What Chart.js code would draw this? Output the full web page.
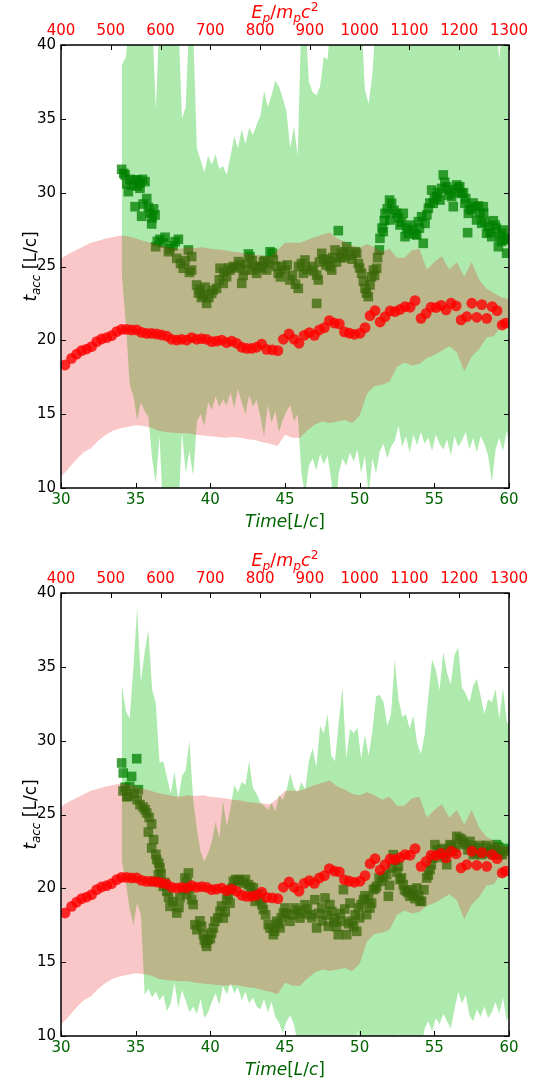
<!DOCTYPE html>
<html>
<head>
<meta charset="utf-8">
<script src="https://cdn.jsdelivr.net/npm/chart.js@4.4.1/dist/chart.umd.min.js"></script>
<style>
  html, body { margin: 0; padding: 0; background: #fff; }
  canvas { display: block; }
</style>
</head>
<body>
<canvas id="topChart" width="541" height="548"></canvas>
<canvas id="bottomChart" width="541" height="535"></canvas>
<script>
// tick labels
const timeTicks = [30, 35, 40, 45, 50, 55, 60];
const energyTicks = [400, 500, 600, 700, 800, 900, 1000, 1100, 1200, 1300];
const taccTicks = [10, 15, 20, 25, 30, 35, 40];

// red band (same in both panels)
const redBandX = [30,30.5,31,31.5,32,32.5,33,33.5,34,34.5,35,35.5,36,36.5,37,37.5,38,38.5,39,39.5,
  40,40.5,41,41.5,42,42.5,43,43.5,44,44.5,45,45.5,46,46.5,47,47.5,48,48.5,49,49.5,
  50,50.5,51,51.5,52,52.5,53,53.5,54,54.5,55,55.5,56,56.5,57,57.5,58,58.5,59,59.5,60];
const redBandHi = [25.55,25.85,26.1,26.35,26.6,26.75,26.9,27.0,27.1,27.05,
  26.9,26.75,26.6,26.45,26.35,26.25,26.2,26.3,26.25,26.3,
  26.2,26.15,26.1,26.0,25.95,25.85,25.8,25.75,25.7,26.1,
  26.6,26.6,26.6,26.8,27.0,27.15,27.3,26.9,26.7,26.4,
  26.3,26.5,26.3,26.0,26.2,25.6,25.6,26.1,26.2,24.8,
  25.3,25.7,24.8,25.3,24.3,25.3,24.1,23.5,23.2,22.9,
  22.8];
const redBandLo = [10.77,11.3,11.9,12.4,12.7,13.2,13.6,13.9,14.05,14.15,
  14.25,14.2,14.1,13.9,13.8,13.75,13.7,13.7,13.6,13.55,
  13.5,13.45,13.4,13.45,13.4,13.3,13.25,13.1,13.0,12.85,
  13.6,13.4,13.4,13.9,14.3,14.5,14.4,14.5,14.6,14.4,
  14.9,16.4,16.9,17.0,17.2,18.2,18.5,18.3,18.4,18.8,
  19.0,19.3,19.6,19.2,17.9,18.9,19.4,20.2,20.3,21.0,
  21.15];

// red circles (same in both panels)
const redPts = [[30.27,18.33],[30.71,18.78],[31.05,19.07],[31.38,19.30],[31.72,19.41],[32.05,19.57],
  [32.39,19.91],[32.72,20.09],[33.06,20.18],[33.39,20.32],[33.73,20.59],[34.06,20.74],[34.40,20.74],
  [34.73,20.70],[35.07,20.70],[35.40,20.54],[35.74,20.47],[36.07,20.47],[36.41,20.43],[36.74,20.36],
  [37.08,20.29],[37.41,20.07],[37.75,20.02],[38.08,20.07],[38.42,20.02],[38.75,20.18],[39.08,20.07],
  [39.42,20.11],[39.75,20.07],[40.09,19.91],[40.42,19.95],[40.76,20.02],[41.09,19.84],[41.43,19.95],
  [41.76,19.80],[42.10,19.53],[42.43,19.46],[42.77,19.46],[43.10,19.53],[43.44,19.75],[43.77,19.39],
  [44.15,19.35],[44.52,19.30],[44.89,20.07],[45.27,20.43],[45.61,20.07],[45.94,19.8],[46.28,20.34],
  [46.63,20.52],[46.97,20.34],[47.3,20.70],[47.64,20.86],[47.97,21.34],[48.31,21.16],[48.64,21.11],
  [48.98,20.57],[49.31,20.48],[49.65,20.41],[50.03,20.48],[50.36,20.86],[50.7,21.67],[51.03,22.01],
  [51.37,21.24],[51.7,21.6],[52.04,21.99],[52.37,21.94],[52.71,22.1],[53.04,22.28],[53.38,22.24],
  [53.71,22.69],[54.11,21.49],[54.45,21.83],[54.78,22.24],[55.12,22.22],[55.45,22.37],[55.79,22.06],
  [56.12,22.51],[56.46,22.33],[56.79,21.38],[57.17,21.6],[57.51,22.51],[57.84,21.56],[58.18,22.42],
  [58.51,21.49],[58.87,22.28],[59.2,22.01],[59.54,21.04],[59.76,21.16]];

// green band time grid (both panels)
const greenX = [34.06,34.35,34.6,34.85, 35.1,35.35,35.6,35.85, 36.1,36.35,36.6,36.85, 37.1,37.35,37.6,37.85,
  38.1,38.35,38.6,38.85, 39.1,39.35,39.6,39.85, 40.1,40.35,40.6,40.85, 41.1,41.35,41.6,41.85,
  42.1,42.35,42.6,42.85, 43.1,43.35,43.6,43.85, 44.1,44.35,44.6,44.85, 45.1,45.35,45.6,45.85,
  46.1,46.35,46.6,46.85, 47.1,47.35,47.6,47.85, 48.1,48.35,48.6,48.85, 49.1,49.35,49.6,49.85,
  50.1,50.35,50.6,50.85, 51.1,51.35,51.6,51.85, 52.1,52.35,52.6,52.85, 53.1,53.35,53.6,53.85,
  54.1,54.35,54.6,54.85, 55.1,55.35,55.6,55.85, 56.1,56.35,56.6,56.85, 57.1,57.35,57.6,57.85,
  58.1,58.35,58.6,58.85, 59.1,59.35,59.6,59.85, 60];

// top panel green band
const greenHiTop = [38.6,39.2,42,42, 42,42,42,42, 42,35.6,42,42, 42,42,42,42,
  35.0,35.8,42,41, 33.0,32.2,31.4,32.5, 31.9,32.6,31.6,31.8, 31.2,32.5,33.8,33.0,
  34.3,33.3,34.4,33.9, 34.6,35.2,36.9,35.8, 36.6,37.6,37.2,36.4, 35.5,33.0,34.5,32.5,
  42,42,37.5,36.8, 36.6,37.2,39.2,39.0, 42,42,42,42, 42,42,42,42,
  42,37.0,36.0,38.0, 42,42,42,42, 42,42,42,42, 42,42,42,42,
  42,42,42,42, 42,42,42,42, 42,42,42,42, 42,42,42,42,
  42,42,42,42, 42,39.0,42,42, 42];
const greenLoTop = [24.6,21.0,17.0,16.2, 14.6,15.8,15.2,14.8, 12.0,10.3,13.5,8, 8,8,8,8,
  13.8,11.0,12.5,10.8, 14.5,15.0,14.2,15.8, 15.3,16.2,15.5,16.0, 15.6,16.5,15.4,16.7,
  15.8,15.0,16.3,15.5, 16.0,14.8,13.5,15.6, 14.4,15.2,13.8,14.6, 15.2,15.6,14.5,15.0,
  11.0,9.5,11.5,12.0, 11.2,12.3,11.6,12.2, 10.5,8,11.0,12.0, 11.5,12.4,11.8,12.6,
  11.0,12.2,9.5,12.0, 11.0,12.5,13.0,12.0, 12.8,13.2,14.2,12.8, 13.5,12.4,13.6,12.9,
  13.8,13.0,13.4,12.5, 13.6,13.0,12.6,13.3, 12.2,13.5,12.8,13.2, 13.8,12.6,13.4,12.4,
  13.5,13.0,12.2,10.4, 12.6,13.4,12.5,13.9, 13.0];

// bottom panel green band
const greenHiBot = [33.8,32.0,31.5,35.0, 39.0,34.0,36.0,37.5, 33.5,32.5,28.5,28.6, 27.5,26.4,27.9,26.0,
  27.6,28.0,30.0,26.0, 24.0,22.5,21.8,22.4, 23.2,24.5,23.4,25.9, 24.2,25.4,27.0,26.5,
  27.2,27.0,28.6,26.8, 26.4,25.8,25.6,25.3, 25.8,25.2,26.3,26.0, 26.6,27.8,26.8,26.5,
  27.2,26.7,28.6,29.5, 28.2,31.0,30.5,31.8, 29.0,28.6,31.3,33.6, 28.8,30.8,30.5,30.9,
  28.8,30.4,29.0,30.6, 33.0,33.1,32.6,31.0, 31.8,35.5,32.8,31.6, 31.8,30.8,31.7,29.8,
  29.1,30.4,33.0,35.5, 34.8,33.4,36.0,34.6, 33.8,35.8,36.3,33.6, 33.2,32.6,33.7,34.2,
  33.0,31.8,32.8,32.6, 33.5,31.5,33.6,31.3, 31.0];
const greenLoBot = [21.9,20.3,18.6,17.5, 19.0,18.2,12.8,13.2, 12.6,13.0,12.4,12.8, 11.7,12.2,13.6,11.9,
  13.1,12.4,11.6,12.0, 11.5,12.5,11.2,11.6, 12.3,12.9,12.1,13.4, 12.8,13.6,12.9,13.3,
  12.4,13.0,12.2,12.6, 12.0,11.8,12.5,11.6, 12.3,11.3,10.9,10.2, 11.0,11.4,10.8,9.5,
  8,8,8,8, 8,8,8,8, 8,8,8,8, 8,8,8,10.4,
  8,8,8,8, 8,8,8,8, 8,8,10.2,9.0, 8,9.2,8,10.0,
  9.0,10.5,11.0,10.3, 11.2,10.8,11.5,11.0, 10.5,11.8,13.0,12.2, 12.8,11.4,11.0,11.8,
  11.3,12.0,11.2,11.6, 12.3,11.5,12.6,11.0, 11.5];

// green squares, top panel
const squaresTop = [[34.06,31.58],[34.29,31.2],[34.62,30.9],[34.96,30.86],[35.29,30.63],[35.63,30.75],
  [34.51,30.07],[35.29,30.3],[34.96,29.05],[35.5,29.23],[35.74,29.6],[35.4,28.4],[35.96,28.6],[36.3,28.49],
  [36.07,27.88],[36.63,26.84],[36.97,26.98],[37.64,26.68],[37.86,26.84],[36.34,26.34],[37.19,26.0],
  [37.75,25.55],[38.53,26.12],[38.75,25.67],[38.19,24.88],[38.75,24.76],[39.08,23.75],[39.3,23.45],
  [39.53,23.07],[39.75,22.5],[39.64,23.6],[40.09,23.18],[40.42,23.52],[40.65,24.88],[40.87,23.86],
  [41.09,24.31],[41.32,24.76],[41.54,25.0],[41.88,25.33],[42.1,23.86],[42.32,24.76],[42.66,25.67],
  [42.88,24.76],[43.1,24.54],[43.33,25.0],[43.55,25.33],[43.77,24.76],[44.0,26.0],[44.22,25.44],
  [44.55,24.54],[42.55,25.85],[44.78,25.0],
  [34.2,31.3],[34.4,30.6],[34.75,30.5],[35.1,30.45],[35.15,30.85],[35.45,30.9],[35.85,29.0],[36.1,28.3],
  [36.2,28.9],[36.45,26.7],[36.85,26.6],[37.3,26.2],[37.5,26.4],[38.0,25.2],[38.3,25.4],[38.6,24.6],
  [39.2,23.2],[39.4,22.9],[39.9,22.9],[40.2,23.4],[40.6,24.1],[40.9,24.6],[41.2,24.9],[41.7,24.9],
  [42.0,25.1],[42.2,24.4],[42.45,25.2],[42.8,25.4],[43.0,25.0],[43.45,24.9],[43.65,25.4],[43.9,25.2],
  [44.15,25.9],[44.4,25.0],[44.7,24.3],
  [45.0,24.76],[45.33,24.09],[45.89,23.52],[46.34,25.44],[46.23,24.54],[46.79,25.0],[47.12,24.42],
  [47.23,24.09],[47.12,22.5],[47.46,25.89],[47.9,25.44],[48.13,24.76],[48.35,26.12],[48.57,27.43],
  [48.79,25.89],[49.13,26.34],[49.35,25.78],[49.69,26.0],[49.91,25.2],[50.13,24.54],[50.36,23.52],
  [50.58,22.96],[50.69,23.75],[50.92,24.76],[51.14,24.88],[51.32,26.12],[51.36,26.91],[51.58,27.36],
  [51.7,28.6],[52.03,28.15],[52.14,29.28],[52.48,28.6],[52.7,27.81],[52.92,28.6],[53.04,27.02],
  [53.26,27.25],[53.59,27.47],[53.82,27.13],[53.93,28.04],[54.15,28.37],[54.38,27.92],[54.26,26.57],
  [54.6,28.94],[54.82,30.18],[54.93,29.28],[55.16,29.73],[55.38,29.5],[55.49,30.29],[55.6,31.2],
  [55.83,30.41],[55.94,29.84],[56.16,29.73],[56.27,29.05],[56.5,30.52],[56.61,30.29],[56.83,29.95],
  [57.05,29.28],[57.28,28.6],[57.23,27.29],[57.5,28.83],[57.72,29.05],[57.83,28.15],[58.06,28.6],
  [58.17,27.92],[58.28,29.05],[58.5,27.25],[58.62,27.7],[58.84,27.02],[59.06,27.81],[59.29,26.34],
  [59.51,27.25],[59.73,26.8],[59.84,25.9],[59.62,27.47],
  [45.15,25.1],[45.5,24.4],[45.7,23.8],[45.9,25.0],[46.1,25.2],[46.45,24.8],[46.9,24.7],[47.3,25.3],
  [47.6,25.5],[47.75,25.1],[48.0,25.0],[48.2,25.6],[48.45,25.3],[48.7,25.6],[48.95,25.6],[49.0,26.0],
  [49.5,25.5],[49.8,25.9],[50.0,24.9],[50.25,24.0],[50.45,23.2],[50.8,24.3],[51.0,24.4],[51.2,25.6],
  [51.5,27.6],[51.65,28.1],[51.85,28.9],[52.0,29.5],[52.3,28.8],[52.6,28.3],[52.8,28.0],[53.15,27.6],
  [53.4,27.8],[53.7,27.2],[54.0,27.6],[54.5,28.5],[54.7,29.3],[55.0,29.6],[55.25,30.0],[55.7,30.7],
  [56.0,30.2],[56.4,30.0],[56.7,30.4],[56.95,30.0],[57.1,29.6],[57.35,28.9],[57.6,29.3],[57.95,29.1],
  [58.3,28.6],[58.4,28.0],[58.75,27.3],[58.95,28.1],[59.15,27.6],[59.4,27.0],[59.5,26.7],[59.9,26.9]];

// green squares, bottom panel
const squaresBot = [[34.06,28.49],[34.17,27.81],[35.07,28.78],[34.73,27.58],[34.29,26.84],[34.51,26.23],
  [35.18,26.68],[35.29,25.67],[35.63,25.33],[35.74,25.1],[36.07,24.36],[35.85,23.81],[36.07,22.73],
  [36.41,21.94],[36.63,21.38],[36.52,20.93],[36.27,20.47],[36.85,20.14],[37.08,19.8],[37.3,18.78],
  [37.75,18.33],[37.97,19.35],[38.53,21.04],[38.3,20.7],[38.42,19.57],[38.75,19.23],[38.97,17.54],
  [39.42,17.43],[39.53,16.86],[39.75,16.07],[39.86,16.52],[40.09,16.97],[40.31,17.77],[40.65,18.44],
  [40.87,17.99],[41.09,19.23],[41.32,19.0],[41.54,20.47],[41.88,20.59],[42.21,20.36],[42.55,20.25],
  [42.88,20.02],[43.0,19.12],[43.33,19.23],[43.55,18.56],[43.88,17.54],[44.22,16.86],[44.44,17.77],
  [44.67,17.32],[44.89,18.33],
  [34.15,26.6],[34.4,26.2],[34.6,26.9],[34.9,26.4],[35.1,26.0],[35.5,25.5],[35.9,24.8],[36.2,23.3],
  [36.35,22.3],[36.55,21.7],[36.7,21.0],[36.95,20.4],[37.2,19.4],[37.5,19.1],[37.9,18.7],[38.2,19.9],
  [38.45,20.4],[38.6,19.9],[38.85,18.9],[39.1,17.2],[39.3,17.8],[39.6,16.5],[39.7,16.3],[40.0,16.6],
  [40.2,17.3],[40.5,18.0],[40.75,18.8],[41.0,18.4],[41.2,19.6],[41.45,20.0],[41.7,20.6],[42.0,20.5],
  [42.35,20.6],[42.7,20.1],[42.95,19.6],[43.2,19.6],[43.45,18.9],[43.7,18.2],[44.0,17.3],[44.3,17.1],
  [44.55,17.6],[44.75,18.0],
  [45.0,18.67],[45.33,17.77],[45.67,18.67],[46.0,17.99],[46.34,18.89],[46.67,18.22],[47.0,19.23],
  [47.12,17.32],[47.46,18.67],[47.68,19.35],[47.9,17.43],[48.13,18.44],[48.35,17.99],[48.57,16.86],
  [48.79,17.77],[48.91,19.91],[49.13,16.86],[49.35,19.0],[49.46,17.77],[49.8,17.09],[49.91,18.67],
  [50.25,19.23],[50.47,18.22],[50.69,18.67],[50.92,19.91],[51.14,20.14],[51.47,20.47],[51.81,20.93],
  [51.92,19.46],[52.14,21.38],[52.25,22.28],[52.59,21.49],[52.7,20.59],[52.92,20.25],[53.15,19.8],
  [53.37,19.46],[53.59,19.57],[53.82,20.02],[54.04,19.12],[54.15,19.12],[54.49,20.7],[54.71,21.27],
  [54.93,22.05],[55.04,22.96],[55.38,22.39],[55.71,22.28],[55.83,21.6],[56.05,22.96],[56.27,22.51],
  [56.5,23.52],[56.83,23.3],[57.05,22.96],[57.39,23.18],[57.61,22.28],[57.95,22.73],[58.17,22.28],
  [58.39,22.51],[58.73,22.73],[58.95,22.28],[59.17,22.96],[59.4,22.28],[59.73,22.51],
  [45.1,18.3],[45.5,18.2],[45.85,18.5],[46.1,18.3],[46.5,18.6],[46.8,18.0],[47.25,18.3],[47.5,17.8],
  [47.8,18.2],[48.0,18.9],[48.25,17.7],[48.45,17.4],[48.7,18.3],[49.0,18.6],[49.25,17.6],[49.6,17.4],
  [49.7,18.2],[50.0,18.0],[50.1,18.9],[50.35,19.5],[50.6,19.3],[50.8,19.0],[51.05,20.0],[51.3,20.7],
  [51.6,20.8],[52.0,20.2],[52.4,21.9],[52.5,21.1],[52.8,20.7],[53.0,19.9],[53.25,19.7],[53.5,19.9],
  [53.7,19.3],[53.95,19.5],[54.3,19.9],[54.6,20.9],[54.8,21.6],[55.2,22.6],[55.5,22.7],[55.6,22.1],
  [55.9,22.6],[56.15,22.9],[56.4,22.8],[56.7,23.4],[56.95,23.1],[57.25,22.6],[57.5,22.9],[57.8,22.4],
  [58.05,22.9],[58.3,22.4],[58.5,22.9],[58.85,22.4],[59.05,22.6],[59.3,22.8],[59.55,22.3],[59.85,22.7]];

const FONT = 'DejaVu Sans';
Chart.defaults.font.family = FONT;

function xy(xs, ys) {
  return xs.map((x, i) => ({ x: x, y: ys[i] }));
}

// draws a mathtext-like label: parts are [text, italic, small, shift]
function drawMath(ctx, parts, x, y, color, size) {
  const fontOf = p => (p[1] ? 'italic ' : '') + (p[2] ? size * 0.7 : size) + 'px "' + FONT + '"';
  let w = 0;
  parts.forEach(p => { ctx.font = fontOf(p); w += ctx.measureText(p[0]).width; });
  let cx = x - w / 2;
  ctx.fillStyle = color;
  ctx.textAlign = 'left';
  ctx.textBaseline = 'alphabetic';
  parts.forEach(p => {
    ctx.font = fontOf(p);
    ctx.fillText(p[0], cx, y + p[3]);
    cx += ctx.measureText(p[0]).width;
  });
}

const frameAndLabels = {
  id: 'frameAndLabels',
  afterDraw(chart) {
    const ctx = chart.ctx;
    const a = chart.chartArea;
    const sx = chart.scales.x, sx2 = chart.scales.x2, sy = chart.scales.y;
    const len = 5;
    ctx.save();
    ctx.strokeStyle = '#000';
    ctx.lineWidth = 1;
    ctx.beginPath();
    sx.ticks.forEach(t => {
      const p = Math.round(sx.getPixelForValue(t.value)) + 0.5;
      ctx.moveTo(p, a.bottom); ctx.lineTo(p, a.bottom - len);
    });
    sx2.ticks.forEach(t => {
      const p = Math.round(sx2.getPixelForValue(t.value)) + 0.5;
      ctx.moveTo(p, a.top); ctx.lineTo(p, a.top + len);
    });
    sy.ticks.forEach(t => {
      const p = Math.round(sy.getPixelForValue(t.value)) + 0.5;
      ctx.moveTo(a.left, p); ctx.lineTo(a.left + len, p);
      ctx.moveTo(a.right, p); ctx.lineTo(a.right - len, p);
    });
    ctx.stroke();
    ctx.lineWidth = 1.5;
    ctx.strokeRect(a.left, a.top, a.right - a.left, a.bottom - a.top);

    const mid = (a.left + a.right) / 2;
    drawMath(ctx, [['E', 1, 0, 0], ['p', 1, 1, 4], ['/', 0, 0, 0], ['m', 1, 0, 0], ['p', 1, 1, 4],
      ['c', 1, 0, 0], ['2', 0, 1, -7]], mid, a.top - 27, '#ff0000', 17.5);
    drawMath(ctx, [['Time', 1, 0, 0], ['[', 0, 0, 0], ['L', 1, 0, 0], ['/', 0, 0, 0], ['c', 1, 0, 0],
      [']', 0, 0, 0]], mid, a.bottom + 39, '#006400', 17);
    ctx.translate(36, (a.top + a.bottom) / 2);
    ctx.rotate(-Math.PI / 2);
    drawMath(ctx, [['t', 1, 0, 0], ['acc', 1, 1, 4], [' [L/c]', 0, 0, 0]], 0, 0, '#000', 17);
    ctx.restore();
  }
};

function tickAxis(values) {
  return s => { s.ticks = values.map(v => ({ value: v })); };
}

function makeChart(id, squares, greenHi, greenLo) {
  const canvas = document.getElementById(id);
  const h = canvas.height;
  const tickFont = { family: FONT, size: 15 };
  new Chart(canvas, {
    type: 'scatter',
    data: {
      datasets: [
        {
          label: 'Ep',
          data: redPts.map(p => ({ x: p[0], y: p[1] })),
          pointStyle: 'circle',
          pointRadius: 5.4,
          backgroundColor: 'rgba(255,0,0,0.8)',
          borderWidth: 0,
          clip: 0,
          order: 0
        },
        {
          type: 'line',
          label: 'Ep band hi',
          data: xy(redBandX, redBandHi),
          borderWidth: 0,
          borderColor: 'rgba(0,0,0,0)',
          pointRadius: 0,
          tension: 0,
          fill: '+1',
          backgroundColor: 'rgba(230,30,30,0.25)',
          order: 1
        },
        {
          type: 'line',
          label: 'Ep band lo',
          data: xy(redBandX, redBandLo),
          borderWidth: 0,
          borderColor: 'rgba(0,0,0,0)',
          pointRadius: 0,
          tension: 0,
          fill: false,
          order: 1
        },
        {
          label: 'tacc',
          data: squares.map(p => ({ x: p[0], y: p[1] })),
          pointStyle: 'rect',
          pointRadius: 6.8,
          backgroundColor: 'rgba(0,128,0,0.75)',
          borderWidth: 0,
          clip: 0,
          order: 2
        },
        {
          type: 'line',
          label: 'tacc band hi',
          data: xy(greenX, greenHi),
          borderWidth: 0,
          borderColor: 'rgba(0,0,0,0)',
          pointRadius: 0,
          tension: 0,
          fill: '+1',
          backgroundColor: 'rgb(174,234,174)',
          order: 3
        },
        {
          type: 'line',
          label: 'tacc band lo',
          data: xy(greenX, greenLo),
          borderWidth: 0,
          borderColor: 'rgba(0,0,0,0)',
          pointRadius: 0,
          tension: 0,
          fill: false,
          order: 3
        }
      ]
    },
    options: {
      responsive: false,
      animation: false,
      devicePixelRatio: 1,
      events: [],
      layout: { padding: { left: 0, right: 32, top: 0, bottom: 0 } },
      plugins: { legend: { display: false }, tooltip: { enabled: false } },
      scales: {
        x: {
          type: 'linear', position: 'bottom', min: 30, max: 60,
          grid: { display: false, drawTicks: false }, border: { display: false },
          ticks: { color: '#006400', font: tickFont, padding: 3, maxRotation: 0, autoSkip: false,
            callback: v => String(v) },
          afterBuildTicks: tickAxis(timeTicks),
          afterFit: s => { s.height = h - 488; }
        },
        x2: {
          type: 'linear', position: 'top', min: 400, max: 1300,
          grid: { display: false, drawTicks: false }, border: { display: false },
          ticks: { color: '#ff0000', font: tickFont, padding: 5, maxRotation: 0, autoSkip: false,
            callback: v => String(v) },
          afterBuildTicks: tickAxis(energyTicks),
          afterFit: s => { s.height = 45; }
        },
        y: {
          type: 'linear', position: 'left', min: 10, max: 40,
          grid: { display: false, drawTicks: false }, border: { display: false },
          ticks: { color: '#000', font: tickFont, padding: 5, autoSkip: false,
            callback: v => String(v) },
          afterBuildTicks: tickAxis(taccTicks),
          afterFit: s => { s.width = 61; }
        }
      }
    },
    plugins: [frameAndLabels]
  });
}

makeChart('topChart', squaresTop, greenHiTop, greenLoTop);
makeChart('bottomChart', squaresBot, greenHiBot, greenLoBot);
</script>
</body>
</html>
